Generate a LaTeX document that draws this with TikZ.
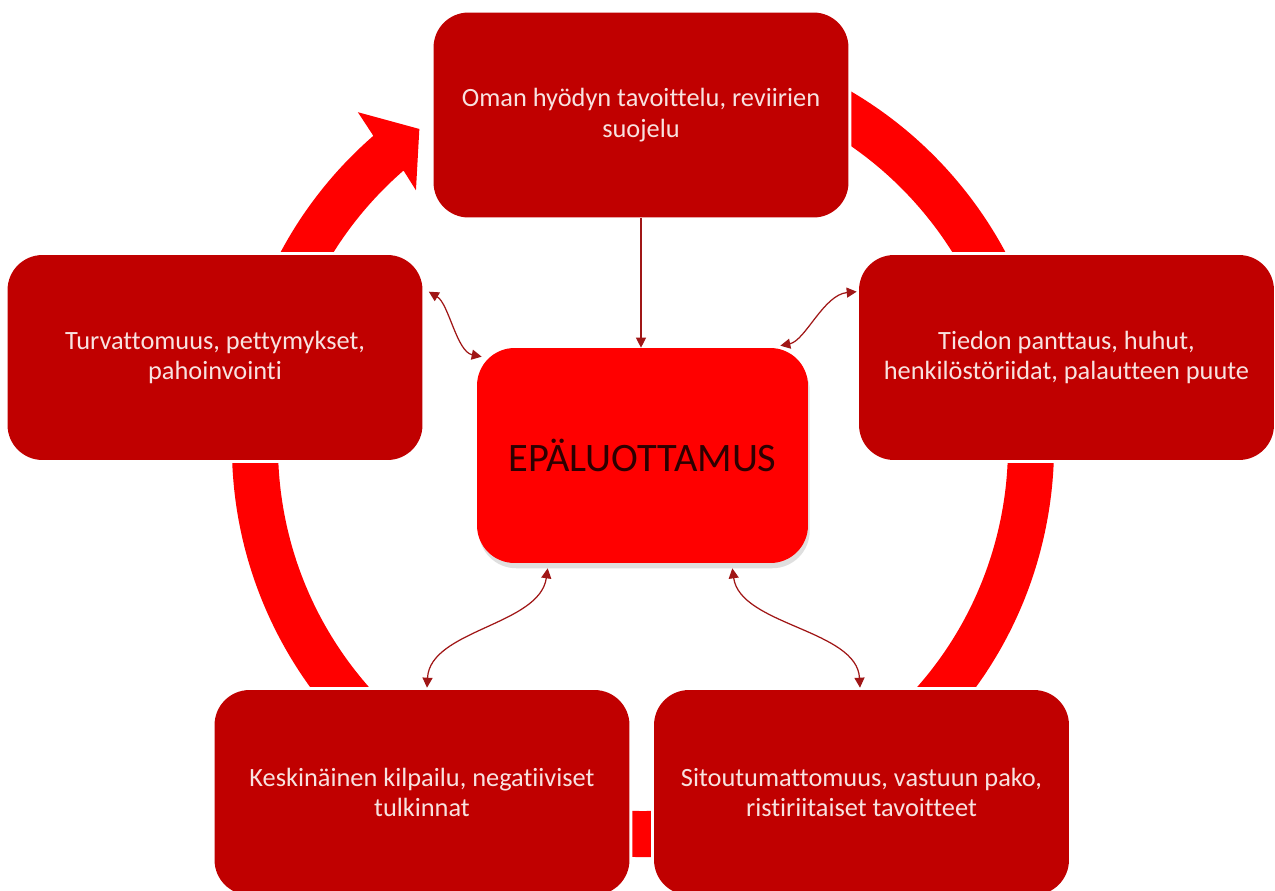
\documentclass[tikz,border=0pt]{standalone}
\usepackage{fontspec}
\setmainfont{Carlito}[Ligatures={NoCommon,NoRare}]
\usetikzlibrary{arrows.meta,calc,shadows}

\definecolor{boxred}{RGB}{192,0,0}
\definecolor{ringred}{RGB}{255,0,0}
\definecolor{linkred}{RGB}{160,22,22}
\definecolor{boxtext}{RGB}{248,226,224}
\definecolor{centertext}{RGB}{45,0,0}

\begin{document}
\begin{tikzpicture}[x=0.02cm, y=-0.02cm,
  >={Triangle[length=2mm, width=2mm]},
  every node/.style={font=\fontsize{15}{17.5}\selectfont},
  outerbox/.style={rectangle, rounded corners=0.7cm, fill=boxred, text=boxtext,
    align=center, minimum width=8.3cm, minimum height=4.1cm, inner sep=0pt,
    preaction={draw=white, line width=0.12cm}},
  centerbox/.style={rectangle, rounded corners=0.75cm, fill=ringred, text=centertext,
    minimum width=6.62cm, minimum height=4.3cm, inner sep=0pt,
    font=\fontsize{23}{28}\selectfont,
    drop shadow={shadow xshift=1pt, shadow yshift=-3pt, opacity=0.25}},
  link/.style={draw=linkred, line width=0.7pt}]
  \useasboundingbox (0,0) rectangle (1275,890);
  \fill[white] (0,0) rectangle (1275,890);
  \clip (0,0) rectangle (1275,890);
  % Ring of the cycle (pixel units, y downwards)
  \pgfmathsetmacro{\rout}{411}
  \pgfmathsetmacro{\rin}{365}
  \pgfmathsetmacro{\rmid}{388}
  \coordinate (hub) at (643,446);
  % Band runs clockwise from behind the top box round to the arrowhead
  \fill[ringred] ([shift={(-80:\rout)}]hub) arc[start angle=-80, end angle=229, radius=\rout]
    -- ([shift={(229.5:439)}]hub) -- ([shift={(234.8:\rmid)}]hub)
    -- ([shift={(228.4:342)}]hub) -- ([shift={(229:\rin)}]hub)
    arc[start angle=229, end angle=-80, radius=\rin] -- cycle;
  % Outer boxes
  \node[outerbox] (tbox) at (641,115) {Oman hyödyn tavoittelu, reviirien\\suojelu};
  \node[outerbox] (lbox) at (215,357.5) {Turvattomuus, pettymykset,\\pahoinvointi};
  \node[outerbox] (rbox) at (1066.5,357.5) {Tiedon panttaus, huhut,\\henkilöstöriidat, palautteen puute};
  \node[outerbox] (blbox) at (422,792.5) {Keskinäinen kilpailu, negatiiviset\\tulkinnat};
  \node[outerbox] (brbox) at (861.5,792.5) {Sitoutumattomuus, vastuun pako,\\ristiriitaiset tavoitteet};
  % Central box
  \node[centerbox] (cen) at (642.5,455.5) {EPÄLUOTTAMUS};
  % Top box feeds straight down into the centre
  \draw[link, ->] (tbox.south) -- (tbox.south |- cen.north);
  % Two-way links to the other boxes
  \draw[link, <->] ($(lbox.north east)+(6,37)$)
    .. controls +(20,12) and +(-25,-5) .. ($(cen.north west)+(5,9)$);
  \draw[link, <->] ($(cen.north east)+(-28,-2)$)
    .. controls +(25,-5) and +(-33,3) .. ($(rbox.north west)+(-2,37)$);
  \draw[link, <->] ($(cen.south west)+(71,5)$)
    .. controls +(-8,57) and +(3,-58) .. ($(blbox.north)+(5,-2)$);
  \draw[link, <->] ($(cen.south east)+(-76,5)$)
    .. controls +(8,57) and +(-3,-58) .. ($(brbox.north)+(-1.5,-2)$);
\end{tikzpicture}
\end{document}
